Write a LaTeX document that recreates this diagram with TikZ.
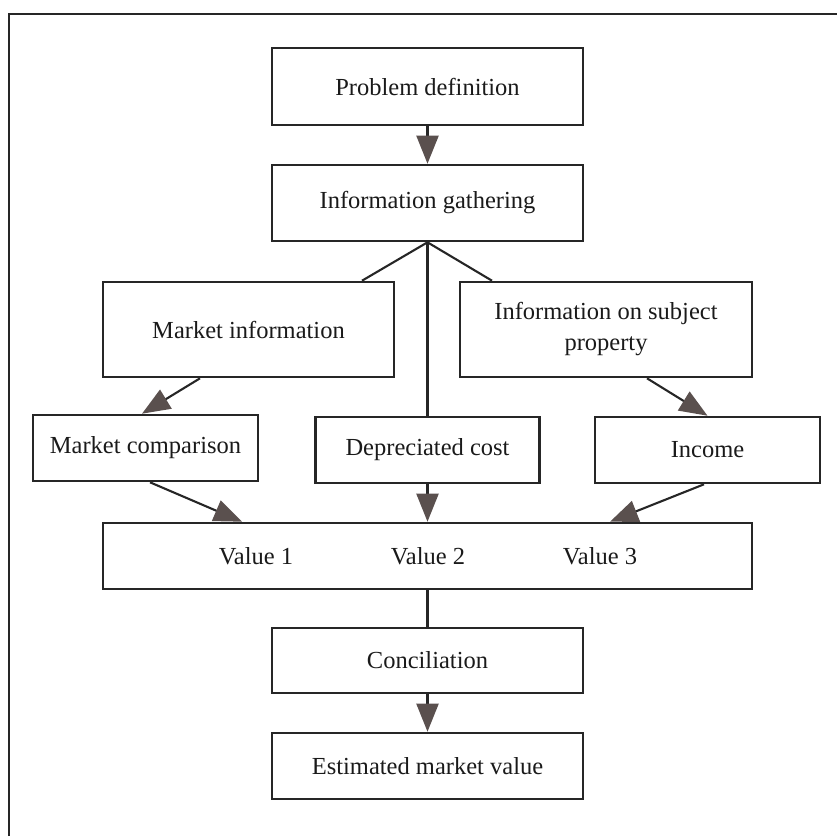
\documentclass[tikz,border=0pt]{standalone}
\usepackage{fontspec}
\setmainfont{Liberation Serif}
\usetikzlibrary{arrows.meta}
\definecolor{inkline}{HTML}{262626}
\definecolor{headfill}{HTML}{5A504E}
\definecolor{inktext}{HTML}{1A1A1A}
\begin{document}
\begin{tikzpicture}[x=1pt,y=-1pt,
  box/.style={draw=inkline, line width=2.6pt, inner sep=0pt, align=center,
    text=inktext, font=\fontsize{24.5}{31}\selectfont},
  label/.style={inner sep=0pt, text=inktext, font=\fontsize{24.5}{31}\selectfont},
  link/.style={draw=inkline, line width=2.1pt},
  flow/.style={link, -{Triangle[length=28pt,width=22pt,color=headfill]}}]
\useasboundingbox (0,0) rectangle (837,836);

% open frame: top and left rules only
\draw[inkline, line width=1.6pt] (9,836) -- (9,14) -- (837,14);

% boxes
\node[box, minimum width=311pt, minimum height=77pt] (pd)  at (427.5,86.5) {Problem definition};
\node[box, minimum width=311pt, minimum height=76pt] (ig)  at (427.5,203)  {Information gathering};
\node[box, minimum width=291pt, minimum height=95pt] (mi)  at (248.5,329.5) {Market information};
\node[box, minimum width=292pt, minimum height=95pt] (isp) at (606,329.5)  {Information on subject\\property};
\node[box, minimum width=225pt, minimum height=66pt] (mc)  at (145.5,448)  {Market comparison};
\node[box, minimum width=224pt, minimum height=66pt] (dc)  at (427.5,450)  {Depreciated cost};
\node[box, minimum width=225pt, minimum height=66pt] (inc) at (707.5,450)  {Income};
\node[box, minimum width=649pt, minimum height=66pt] (val) at (427.5,556)  {};
\node[label] (v1) at (256,556)   {Value 1};
\node[label] (v2) at (428,556)   {Value 2};
\node[label] (v3) at (600,556)   {Value 3};
\node[box, minimum width=311pt, minimum height=65pt] (con) at (427.5,660.5) {Conciliation};
\node[box, minimum width=311pt, minimum height=66pt] (emv) at (427.5,766)  {Estimated market value};

% connectors
\draw[flow] (pd.south) -- (ig.north);
\draw[link] (ig.south) -- ([xshift=113.5pt]mi.north);
\draw[link] (ig.south) -- ([xshift=-114pt]isp.north);
\draw[link] (ig.south) -- (dc.north);
\draw[flow] ([xshift=-48.5pt]mi.south) -- ([xshift=-3.5pt]mc.north);
\draw[flow] ([xshift=41pt]isp.south) -- ([xshift=0pt]inc.north);
\draw[flow] ([xshift=4.5pt]mc.south) -- ([xshift=-185.5pt]val.north);
\draw[flow] (dc.south) -- (val.north);
\draw[flow] ([xshift=-3.5pt]inc.south) -- ([xshift=182.5pt]val.north);
\draw[link] (val.south) -- (con.north);
\draw[flow] (con.south) -- (emv.north);
\end{tikzpicture}
\end{document}
